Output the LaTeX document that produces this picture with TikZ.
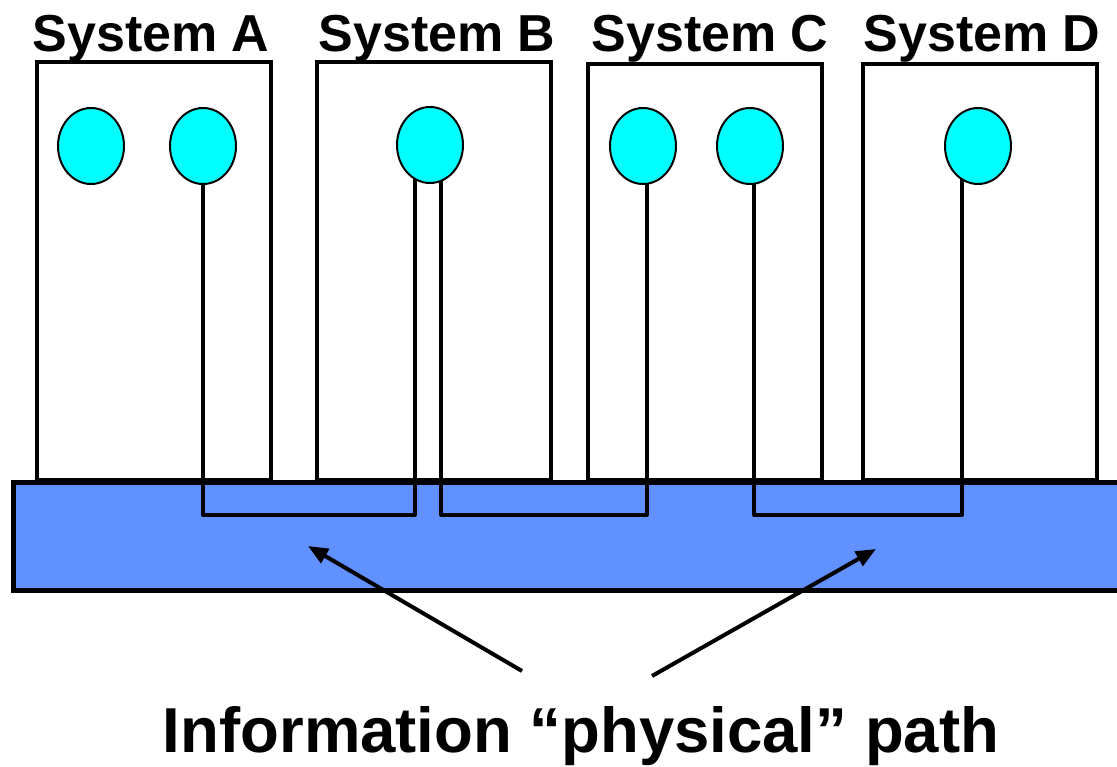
\documentclass[tikz,border=0pt]{standalone}
\usepackage{fontspec}
\setmainfont{Liberation Sans}
\usetikzlibrary{arrows.meta,shapes.geometric}
\definecolor{nodecyan}{RGB}{0,255,255}
\definecolor{busblue}{RGB}{97,144,255}
\begin{document}
\begin{tikzpicture}[x=1pt,y=-1pt,
  sysbox/.style={draw=black,line width=4.5pt,fill=white},
  bus/.style={draw=black,line width=5pt,fill=busblue},
  proc/.style={ellipse,draw=black,line width=2pt,fill=nodecyan,minimum width=66pt,minimum height=76pt,inner sep=0pt,outer sep=0pt},
  wire/.style={draw=black,line width=4pt,line join=round},
  pointer/.style={draw=black,line width=4pt,-{Triangle[length=20pt,width=16pt]}},
  syslabel/.style={anchor=base,font=\bfseries\fontsize{52}{60}\selectfont,inner sep=0pt},
  caption/.style={anchor=base,font=\bfseries\fontsize{63.5}{70}\selectfont,inner sep=0pt}]
\useasboundingbox (0,0) rectangle (1117,767);
% system boxes
\draw[sysbox] (37,62) rectangle (271,480);
\draw[sysbox] (317,62) rectangle (551,480);
\draw[sysbox] (588,64) rectangle (822,480);
\draw[sysbox] (863,64) rectangle (1097,480);
% bus
\draw[bus] (13,482) rectangle (1130,590);
% labels
\node[syslabel] (la) at (151,52) {System A};
\node[syslabel] (lb) at (437,52) {System B};
\node[syslabel] (lc) at (710,52) {System C};
\node[syslabel] (ld) at (982,52) {System D};
% processes
\node[proc] (a1) at (91,146) {};
\node[proc] (a2) at (203,146) {};
\node[proc] (b) at (430,145) {};
\node[proc] (c1) at (643,146) {};
\node[proc] (c2) at (750,146) {};
\node[proc] (d) at (978,146) {};
% wires
\coordinate (lvl) at (0,515);
\draw[wire] (a2.south) -- (a2.south |- lvl) -| (b.246);
\draw[wire] (b.287) -- (b.287 |- lvl) -| (c1.276);
\draw[wire] (c2.276) -- (c2.276 |- lvl) -| (d.244);
% caption and pointers
\node[caption] (cap) at (581,752) {Information “physical” path};
\coordinate (t1) at (522,671);
\coordinate (t2) at (652,676);
\coordinate (h1) at (308,546);
\coordinate (h2) at (876,549);
\draw[pointer] (t1) -- (h1);
\draw[pointer] (t2) -- (h2);
\end{tikzpicture}
\end{document}
